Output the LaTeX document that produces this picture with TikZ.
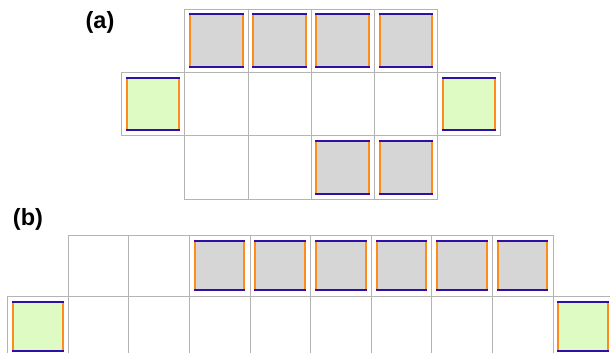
\documentclass[tikz,border=0pt]{standalone}
\usepackage{fontspec}
\setmainfont{Liberation Sans}
\definecolor{gridc}{HTML}{B4B4B4}
\definecolor{grayf}{HTML}{D6D6D6}
\definecolor{greenf}{HTML}{DDFBC3}
\definecolor{edgeb}{HTML}{2E10A8}
\definecolor{edgeo}{HTML}{FF8C1A}
\tikzset{
  gridcell/.style={draw=gridc, line width=0.8pt, inner sep=0pt, outer sep=0pt},
  cellA/.style={gridcell, minimum width=63.2pt, minimum height=63.3pt},
  cellB/.style={gridcell, minimum width=60.6pt, minimum height=61pt},
  sq/.style={inner sep=0pt, outer sep=0pt, fill=#1},
  sqA/.style={sq=#1, minimum width=52.5pt, minimum height=52.5pt},
  sqB/.style={sq=#1, minimum width=49.5pt, minimum height=49.5pt},
  oedge/.style={draw=edgeo, line width=2pt},
  bedge/.style={draw=edgeb, line width=2pt, shorten <=-1pt, shorten >=-1pt},
  lbl/.style={font=\bfseries\fontsize{23.5}{27}\selectfont, inner sep=0pt}
}
\newcommand\sqedges[1]{%
  \draw[oedge] (#1.north west) -- (#1.south west);
  \draw[oedge] (#1.north east) -- (#1.south east);
  \draw[bedge] (#1.north west) -- (#1.north east);
  \draw[bedge] (#1.south west) -- (#1.south east);
}
\begin{document}
\begin{tikzpicture}[x=1pt, y=-1pt]
\useasboundingbox (0,0) rectangle (610,353);
\clip (0,0) rectangle (610,353);
\fill[white] (0,0) rectangle (610,353);
% ---------- (a) ----------
\node[lbl] (la) at (100,22.5) {(a)};
\foreach \j in {1,...,4} {\node[cellA] (a0\j) at ({153.1+63.2*\j},40.65) {};}
\foreach \j in {0,...,5} {\node[cellA] (a1\j) at ({153.1+63.2*\j},103.95) {};}
\foreach \j in {1,...,4} {\node[cellA] (a2\j) at ({153.1+63.2*\j},167.25) {};}
\foreach \j in {1,...,4} {\node[sqA=grayf] (sa0\j) at (a0\j) {}; \sqedges{sa0\j}}
\foreach \j in {0,5} {\node[sqA=greenf] (sa1\j) at (a1\j) {}; \sqedges{sa1\j}}
\foreach \j in {3,4} {\node[sqA=grayf] (sa2\j) at (a2\j) {}; \sqedges{sa2\j}}
% ---------- (b) ----------
\node[lbl] (lb) at (28,219.5) {(b)};
\foreach \j in {1,...,8} {\node[cellB] (b0\j) at ({37.8+60.6*\j},265.5) {};}
\foreach \j in {0,...,9} {\node[cellB] (b1\j) at ({37.8+60.6*\j},326.5) {};}
\foreach \j in {3,...,8} {\node[sqB=grayf] (sb0\j) at (b0\j) {}; \sqedges{sb0\j}}
\foreach \j in {0,9} {\node[sqB=greenf] (sb1\j) at (b1\j) {}; \sqedges{sb1\j}}
\end{tikzpicture}
\end{document}
